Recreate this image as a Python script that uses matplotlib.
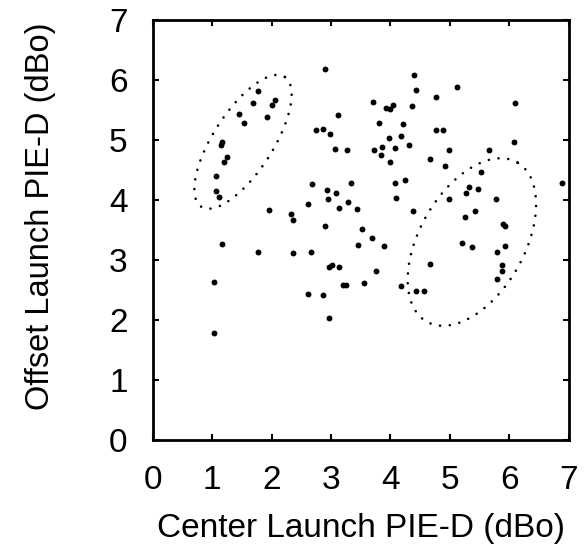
import numpy as np
import matplotlib
matplotlib.use("Agg")
import matplotlib.pyplot as plt

plt.rcParams['font.family'] = ['Liberation Sans', 'DejaVu Sans']

# center launch vs offset launch PIE-D, in dBo
center_x = [2.90, 1.77, 1.69, 2.06, 2.01, 1.46, 1.92, 1.53, 3.12, 2.74,
            2.86, 2.99, 3.06, 3.27, 1.16, 1.15, 1.25, 1.20, 1.06, 1.06,
            1.12, 2.68, 2.93, 3.09, 3.34, 2.95, 2.62, 3.29, 3.14, 3.44,
            1.95, 2.32, 2.36, 2.90, 1.17, 1.77, 2.36, 2.67, 3.46, 2.96,
            3.01, 3.13, 3.20, 3.26, 2.61, 2.86, 2.97, 1.04, 1.03, 4.40,
            4.43, 5.12, 3.70, 3.93, 4.00, 4.04, 4.36, 4.77, 6.10, 3.80,
            4.21, 4.77, 4.88, 3.98, 4.17, 3.85, 3.72, 4.07, 4.31, 3.84,
            3.99, 4.99, 5.65, 6.07, 4.67, 4.91, 5.52, 4.07, 4.24, 6.88,
            5.32, 5.27, 5.48, 4.10, 4.99, 5.77, 4.38, 5.26, 5.42, 5.89,
            5.93, 3.53, 3.69, 3.89, 5.20, 5.38, 5.93, 5.80, 3.76, 4.67,
            5.88, 5.88, 5.80, 3.55, 4.17, 4.43, 4.57]
offset_y = [6.18, 5.81, 5.62, 5.67, 5.58, 5.43, 5.38, 5.28, 5.41, 5.16,
            5.18, 5.10, 4.85, 4.83, 4.97, 4.91, 4.72, 4.63, 4.40, 4.15,
            4.05, 4.27, 4.16, 4.12, 4.29, 4.01, 3.94, 3.97, 3.87, 3.85,
            3.83, 3.77, 3.67, 3.57, 3.26, 3.14, 3.11, 3.13, 3.25, 2.89,
            2.91, 2.89, 2.58, 2.59, 2.43, 2.42, 2.03, 2.64, 1.78, 6.09,
            5.83, 5.89, 5.64, 5.54, 5.51, 5.59, 5.56, 5.71, 5.61, 5.29,
            5.26, 5.16, 5.16, 5.03, 5.07, 4.89, 4.83, 4.86, 4.92, 4.75,
            4.64, 4.83, 4.83, 4.96, 4.69, 4.56, 4.46, 4.29, 4.34, 4.29,
            4.22, 4.12, 4.19, 4.04, 4.01, 4.01, 3.81, 3.72, 3.82, 3.60,
            3.57, 3.51, 3.37, 3.23, 3.28, 3.21, 3.23, 3.13, 2.81, 2.93,
            2.91, 2.82, 2.68, 2.61, 2.56, 2.48, 2.48]

# dotted cluster outlines: center x, center y, semi-axes, tilt (deg)
ell_cx = [1.52, 5.37]
ell_cy = [4.97, 3.30]
ell_a = [1.29, 1.53]
ell_b = [0.50, 0.88]
ell_ang = [57, 60]

fig = plt.figure(figsize=(5.87, 5.5), dpi=100)
ax = fig.add_axes([0.260, 0.2, 0.709, 0.7636])

ax.scatter(center_x, offset_y, s=18, color='black', linewidths=0, zorder=3)

t = np.linspace(0, 2 * np.pi, 400)
for cx, cy, a, b, ang in zip(ell_cx, ell_cy, ell_a, ell_b, ell_ang):
    th = np.deg2rad(ang)
    ex = cx + a * np.cos(t) * np.cos(th) - b * np.sin(t) * np.sin(th)
    ey = cy + a * np.cos(t) * np.sin(th) + b * np.sin(t) * np.cos(th)
    ax.plot(ex, ey, color='black', lw=1.9, linestyle=(0, (0.01, 3.7)),
            dash_capstyle='round')

ax.set_xlim(0, 7)
ax.set_ylim(0, 7)
ax.set_xticks(range(8))
ax.set_yticks(range(8))
ax.tick_params(direction='in', length=4, width=1.5, labelsize=24,
               top=True, right=True, pad=18)
for sp in ax.spines.values():
    sp.set_linewidth(2)

ax.set_xlabel('Center Launch PIE-D (dBo)', fontsize=24, labelpad=12)
ax.set_ylabel('Offset Launch PIE-D (dBo)', fontsize=23.5, labelpad=38)
ax.yaxis.label.set_y(0.532)

fig.savefig('out.png', dpi=100)
